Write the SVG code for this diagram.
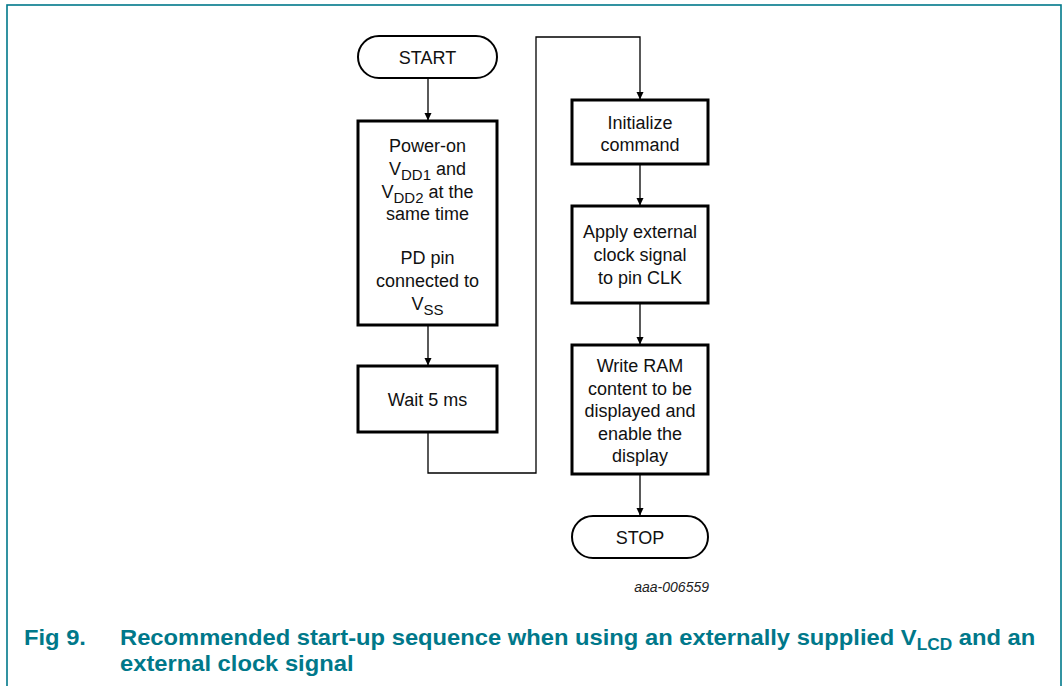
<svg xmlns="http://www.w3.org/2000/svg" width="1063" height="686" viewBox="0 0 1063 686">
<defs>
<marker id="arr" markerWidth="8" markerHeight="8" refX="7" refY="4" orient="auto" markerUnits="userSpaceOnUse">
<path d="M0,0.5 L7.5,4 L0,7.5 Z" fill="#000"/>
</marker>
<style>
.box{fill:#fff;stroke:#000;stroke-width:3}
.pill{fill:#fff;stroke:#000;stroke-width:2}
.t{font-family:"Liberation Sans",Arial,sans-serif;font-size:18px;fill:#111;text-anchor:middle}
.sub{font-size:15px}
.con{fill:none;stroke:#000;stroke-width:1.3}
.cap{font-family:"Liberation Sans",Arial,sans-serif;font-size:22px;font-weight:bold;fill:#00788A}
</style>
</defs>
<rect x="0" y="0" width="1063" height="686" fill="#fff"/>
<rect x="7" y="5" width="1054" height="700" fill="none" stroke="#00788A" stroke-width="1.6"/>

<g id="connectors">
<line class="con" x1="428" y1="78" x2="428" y2="120" marker-end="url(#arr)"/>
<line class="con" x1="428" y1="325" x2="428" y2="365" marker-end="url(#arr)"/>
<polyline class="con" points="428,432 428,473 536,473 536,37 640,37 640,99" marker-end="url(#arr)"/>
<line class="con" x1="640" y1="164" x2="640" y2="205" marker-end="url(#arr)"/>
<line class="con" x1="640" y1="303" x2="640" y2="344" marker-end="url(#arr)"/>
<line class="con" x1="640" y1="474" x2="640" y2="515" marker-end="url(#arr)"/>
</g>

<g id="start">
<rect class="pill" x="358" y="36" width="139" height="42" rx="21"/>
<text class="t" x="427.5" y="63.5">START</text>
</g>

<g id="poweron">
<rect class="box" x="358" y="121" width="139" height="204"/>
<text class="t" x="427.5" y="152">Power-on</text>
<text class="t" x="427.5" y="175">V<tspan class="sub" dy="5">DD1</tspan><tspan dy="-5"> and</tspan></text>
<text class="t" x="427.5" y="198">V<tspan class="sub" dy="5">DD2</tspan><tspan dy="-5"> at the</tspan></text>
<text class="t" x="427.5" y="220">same time</text>
<text class="t" x="427.5" y="264">PD pin</text>
<text class="t" x="427.5" y="287">connected to</text>
<text class="t" x="427.5" y="310">V<tspan class="sub" dy="5">SS</tspan></text>
</g>

<g id="wait">
<rect class="box" x="358" y="366" width="139" height="66"/>
<text class="t" x="427.5" y="405.5">Wait 5 ms</text>
</g>

<g id="init">
<rect class="box" x="572" y="100" width="136" height="64"/>
<text class="t" x="640" y="129">Initialize</text>
<text class="t" x="640" y="151">command</text>
</g>

<g id="apply">
<rect class="box" x="572" y="206" width="136" height="97"/>
<text class="t" x="640" y="237.5">Apply external</text>
<text class="t" x="640" y="260.5">clock signal</text>
<text class="t" x="640" y="283.5">to pin CLK</text>
</g>

<g id="write">
<rect class="box" x="572" y="345" width="136" height="129"/>
<text class="t" x="640" y="372">Write RAM</text>
<text class="t" x="640" y="394.5">content to be</text>
<text class="t" x="640" y="417">displayed and</text>
<text class="t" x="640" y="439.5">enable the</text>
<text class="t" x="640" y="462">display</text>
</g>

<g id="stop">
<rect class="pill" x="572" y="516" width="136" height="42" rx="21"/>
<text class="t" x="640" y="543.5">STOP</text>
</g>

<text x="709" y="592" font-family="Liberation Sans,Arial,sans-serif" font-size="14" font-style="italic" fill="#222" text-anchor="end">aaa-006559</text>

<g id="caption" transform="scale(1.08,1)">
<text class="cap" x="22.2" y="645">Fig 9.</text>
<text class="cap" x="111.1" y="645">Recommended start-up sequence when using an externally supplied V<tspan font-size="16" dy="5">LCD</tspan><tspan dy="-5"> and an</tspan></text>
<text class="cap" x="111.1" y="671">external clock signal</text>
</g>
</svg>
